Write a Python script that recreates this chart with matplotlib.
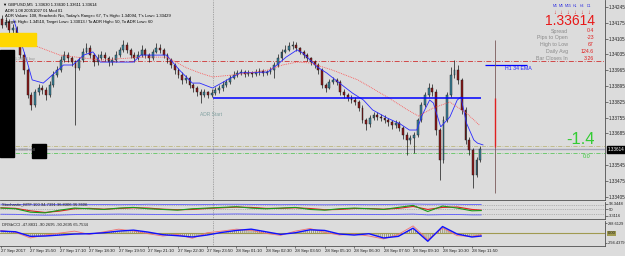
import matplotlib
matplotlib.use("Agg")
import matplotlib.pyplot as plt
from matplotlib.patches import Rectangle
import numpy as np

plt.rcParams["font.family"] = ["Liberation Sans", "DejaVu Sans"]
plt.rcParams["hatch.linewidth"] = 0.6

W, H = 625, 256
BG = "#dcdcdc"

# ---------------- data ----------------
time_labels = ["27 Sep 2017", "27 Sep 15:50", "27 Sep 17:10", "27 Sep 18:30",
               "27 Sep 19:50", "27 Sep 21:10", "27 Sep 22:30", "27 Sep 23:50",
               "28 Sep 01:10", "28 Sep 02:30", "28 Sep 03:50", "28 Sep 05:10",
               "28 Sep 06:30", "28 Sep 07:50", "28 Sep 09:10", "28 Sep 10:30",
               "28 Sep 11:50"]

# candles: 10 minute steps, prices in points above 1.33000
open0_pts = 1190
close_pts = [1165, 1179, 1143, 1152, 1099, 1032, 966, 855, 811, 868,
             886, 877, 855, 899, 944, 966, 1010, 1032, 1019, 1001,
             975, 1010, 1046, 1063, 1032, 1001, 1019, 1032, 1019, 1001,
             1010, 1032, 1055, 1077, 1055, 1032, 1019, 1032, 1055, 1032,
             1019, 1046, 1063, 1055, 1032, 1010, 988, 966, 944, 922,
             931, 899, 886, 868, 855, 868, 855, 864, 877, 886,
             899, 913, 931, 944, 953, 957, 948, 953, 948, 957,
             961, 953, 957, 966, 988, 1019, 1046, 1055, 1072, 1077,
             1063, 1046, 1032, 1019, 1001, 988, 966, 899, 886, 913,
             922, 913, 868, 855, 842, 833, 824, 798, 744, 727,
             753, 767, 758, 753, 744, 736, 722, 731, 709, 678,
             656, 665, 678, 744, 811, 855, 886, 868, 700, 567,
             744, 855, 944, 966, 922, 789, 656, 611, 501, 567, 614]
high_pts = [1210, 1200, 1190, 1170, 1160, 1110, 1045, 975, 870, 880,
            905, 900, 890, 915, 960, 985, 1030, 1050, 1045, 1030,
            1010, 1025, 1065, 1085, 1075, 1040, 1035, 1050, 1045, 1030,
            1025, 1048, 1070, 1100, 1090, 1065, 1045, 1050, 1075, 1065,
            1040, 1060, 1085, 1080, 1065, 1040, 1020, 995, 975, 955,
            945, 940, 910, 895, 880, 880, 875, 880, 890, 900,
            915, 925, 945, 960, 965, 972, 965, 968, 962, 970,
            975, 970, 968, 980, 1000, 1035, 1060, 1075, 1090, 1095,
            1090, 1070, 1055, 1040, 1025, 1010, 995, 975, 910, 925,
            935, 930, 920, 880, 865, 855, 845, 835, 810, 755,
            765, 780, 778, 770, 765, 755, 745, 745, 740, 720,
            690, 680, 690, 755, 825, 870, 910, 905, 880, 710,
            760, 870, 980, 1010, 990, 930, 800, 670, 620, 580, 630]
low_pts = [1150, 1155, 1130, 1125, 1085, 1020, 950, 840, 790, 800,
           855, 860, 835, 845, 890, 935, 955, 1000, 1000, 985,
           722, 965, 1000, 1040, 1020, 985, 990, 1010, 1005, 985,
           990, 1000, 1025, 1045, 1040, 1020, 1000, 1010, 1025, 1020,
           1000, 1010, 1040, 1040, 1020, 995, 975, 950, 930, 905,
           910, 885, 870, 850, 820, 845, 840, 845, 855, 865,
           875, 890, 905, 925, 935, 945, 935, 940, 935, 940,
           945, 940, 945, 950, 930, 980, 1010, 1040, 1050, 1060,
           1050, 1035, 1020, 1005, 990, 975, 950, 885, 870, 880,
           905, 900, 855, 840, 830, 820, 810, 785, 730, 700,
           715, 745, 745, 740, 730, 720, 705, 710, 695, 660,
           590, 640, 600, 670, 735, 800, 845, 850, 680, 478,
           555, 735, 845, 930, 905, 770, 640, 590, 445, 490, 560]

# blue EMA and red dotted MA (bar number, points)
ema_bars = [7, 11, 14, 17, 23, 28, 34, 39, 45, 50, 54, 65, 72, 76, 83, 90, 97,
            104, 108, 115, 123, 130, 145, 150, 155, 161, 164, 172, 177, 184,
            191, 197, 202, 210, 217, 222, 226, 229, 233, 235, 239, 244, 248,
            250, 253, 257, 259, 262]
ema_pts = [1187, 1086, 1010, 922, 908, 944, 988, 988, 1032, 1046, 1001, 1001,
           1001, 1032, 1032, 1032, 966, 908, 908, 886, 922, 953, 957, 988,
           1023, 1055, 1041, 979, 953, 908, 864, 833, 789, 753, 727, 700, 700,
           767, 833, 820, 714, 758, 833, 846, 731, 656, 642, 634]
ma_bars = [0, 5, 10, 19, 32, 54, 77, 90, 101, 108, 115, 126, 135, 145, 153,
           161, 168, 180, 194, 210, 221, 227, 235, 244, 253, 260]
ma_pts = [1090, 1108, 1099, 1072, 1032, 1010, 1023, 1023, 975, 953, 935, 944,
          953, 966, 988, 1001, 997, 966, 922, 846, 789, 762, 798, 824, 775, 722]

price_ticks = [1.34245, 1.34175, 1.34105, 1.34035, 1.33965, 1.33895, 1.33825,
               1.33755, 1.33685, 1.33545, 1.33475, 1.33405]
last_price = 1.33614
target_level = 1.34006
buy_level = 1.33629
sell_level = 1.33598
adr_level = 1.33842
h1_ema_level = 1.33988
adr_start_bar = 115

# oscillators, sampled every 8 bars
osc_bars = list(range(0, 257, 8)) + [261]
stoch_main = [60, 55, 30, 25, 45, 60, 55, 50, 60, 65, 55, 50, 45, 55, 60, 65, 70,
              60, 55, 60, 65, 50, 45, 55, 60, 55, 50, 65, 80, 35, 75, 60, 40, 42]
stoch_sig = [62, 58, 40, 28, 38, 55, 58, 52, 57, 62, 60, 52, 48, 50, 57, 62, 67,
             65, 58, 58, 62, 57, 48, 50, 57, 57, 52, 58, 72, 50, 65, 68, 50, 45]
stoch_up = [88, 86, 85, 84, 86, 88, 87, 86, 85, 86, 88, 87, 86, 85, 86, 88, 88,
            87, 86, 85, 86, 85, 84, 85, 86, 85, 86, 88, 90, 88, 89, 88, 86, 86]
stoch_dn = [15, 14, 10, 8, 9, 12, 14, 15, 16, 15, 14, 13, 12, 13, 15, 16, 17,
            16, 15, 14, 15, 13, 12, 13, 14, 13, 12, 14, 16, 10, 12, 13, 10, 10]
cci_main = [60, 40, -100, -90, -60, -30, -20, 10, 60, 90, 30, -50, -80, -120,
            -60, 20, 80, 120, 40, -40, 10, 100, 80, -30, -60, -20, -150, -100,
            150, -250, 200, -30, -120, -90]
cci_fast = [80, 20, -150, -60, 0, 60, -40, 40, 120, 60, -20, -90, -40, -160,
            10, 60, 120, 80, -10, -70, 60, 140, 20, -60, -30, -90, -180, -40,
            220, -200, 150, -80, -100, -48]

# ---------------- layout helpers ----------------
def box(x0, y0, x1, y1):
    return [x0 / W, 1 - y1 / H, (x1 - x0) / W, (y1 - y0) / H]


def ftext(x, y, s, **kw):
    kw.setdefault("va", "center")
    fig.text(x / W, 1 - y / H, s, **kw)


fig = plt.figure(figsize=(W / 100, H / 100), dpi=100, facecolor=BG)
ax = fig.add_axes(box(0, 0, 605, 200))
ax_st = fig.add_axes(box(0, 202, 605, 219))
ax_cci = fig.add_axes(box(0, 221, 605, 246))

XMAX = 328.3
for a in (ax, ax_st, ax_cci):
    a.set_facecolor(BG)
    a.set_xlim(-0.5, XMAX)
    for s in a.spines.values():
        s.set_color("#505050")
        s.set_linewidth(0.6)
    a.spines["left"].set_visible(False)
    a.spines["top"].set_visible(False)
    a.yaxis.tick_right()
    a.tick_params(axis="y", direction="out", length=2, width=0.4, pad=1,
                  labelsize=3.3, colors="#202020")
    a.set_xticks([])
    a.axvline(adr_start_bar, color="#707070", lw=0.5, ls=(0, (1, 1.5)))

# ---------------- main price panel ----------------
ax.set_ylim(1.33390, 1.34276)
ax.set_yticks(price_ticks)
ax.set_yticklabels([f"{p:.5f}" for p in price_ticks])

closes = 1.33 + np.array(close_pts) / 1e5
opens = np.concatenate([[1.33 + open0_pts / 1e5], closes[:-1]])
highs = 1.33 + np.array(high_pts) / 1e5
lows = 1.33 + np.array(low_pts) / 1e5
xs = np.arange(len(closes)) * 2 + 0.5

ax.vlines(xs, lows, highs, color="#151515", lw=0.5, zorder=2)
bull = closes >= opens
body_lo = np.minimum(opens, closes)
body_h = np.maximum(np.abs(closes - opens), 0.00002)
ax.bar(xs[bull], body_h[bull], bottom=body_lo[bull], width=1.0,
       color="#3a8299", edgecolor="#151515", lw=0.3, zorder=3)
ax.bar(xs[~bull], body_h[~bull], bottom=body_lo[~bull], width=1.0,
       color="#8b1a1a", edgecolor="#151515", lw=0.3, zorder=3)

ax.plot(ema_bars, 1.33 + np.array(ema_pts) / 1e5, color="#2a2aff", lw=0.6, zorder=4)
ax.plot(ma_bars, 1.33 + np.array(ma_pts) / 1e5, color="#ff4a4a", lw=0.6,
        ls=(0, (1, 1.2)), zorder=4)

ax.axhline(target_level, color="#d03030", lw=0.6, ls=(0, (6, 2, 1, 2)), zorder=1)
ax.axhline(buy_level, color="#b5ad6a", lw=0.5, ls=(0, (6, 2, 1, 2)), zorder=1)
ax.axhline(last_price, color="#a4a4b8", lw=1.0, zorder=1)
ax.axhline(sell_level, color="#46c046", lw=0.5, ls=(0, (6, 2, 1, 2)), zorder=1)
ax.hlines(adr_level, adr_start_bar, 261, color="#0000ff", lw=1.1, zorder=5)
ax.hlines(h1_ema_level, 263, 286, color="#0000ff", lw=0.9, zorder=5)
ax.vlines(268.5, 1.33421, 1.34099, color="#7a5a5a", lw=0.6, zorder=5)
ax.vlines(268.5, 1.33625, 1.33842, color="#e02020", lw=1.0, zorder=6)

# boxes drawn on top of the bars
ax.add_patch(Rectangle((-0.5, 1.34073), 19.6, 0.00057, color="#ffd700", zorder=7))
ax.add_patch(Rectangle((-0.5, 1.33581), 7.6, 0.00474, color="black", zorder=7))
ax.add_patch(Rectangle((16.9, 1.33576), 7.6, 0.00062, color="black", zorder=7))

# current price box on the scale
ax.text(1.004, last_price, "1.33614", transform=ax.get_yaxis_transform(),
        fontsize=3.3, color="white", va="center", ha="left",
        bbox=dict(facecolor="black", edgecolor="black", pad=0.6))

# ---------------- stochastic panel ----------------
ax_st.set_ylim(-20.1, 104.7)
ax_st.set_yticks([93.3448, 50, 3.3116])
ax_st.set_yticklabels(["93.3448", "50", "3.3116"])
ax_st.tick_params(axis="y", labelsize=3.0)
for lv in (80, 50, 20):
    ax_st.axhline(lv, color="#8c8c8c", lw=0.4, ls=(0, (2, 2)))
ax_st.plot(osc_bars, stoch_up, color="#5a5aff", lw=0.6)
ax_st.plot(osc_bars, stoch_dn, color="#5a5aff", lw=0.6)
ax_st.plot(osc_bars, stoch_sig, color="#e02020", lw=0.8)
ax_st.plot(osc_bars, stoch_main, color="#1a9a1a", lw=0.8)
ax_st.text(0.004, 0.85, "Stochastic_MTF 100 94.7391 36.8306 36.3606",
           transform=ax_st.transAxes, fontsize=3, va="center", color="#202020")

# ---------------- CCI panel ----------------
ax_cci.set_ylim(-395, 369)
ax_cci.set_yticks([298.6129, -294.4379])
ax_cci.set_yticklabels(["298.6129", "-294.4379"])
ax_cci.tick_params(axis="y", labelsize=2.8, length=1.5, pad=0.5)
ax_cci.axhline(0, color="#a09a50", lw=0.8)
ax_cci.fill_between(osc_bars, 0, cci_main, facecolor="none", edgecolor="#8e8e6a",
                    hatch="||||||||", lw=0)
ax_cci.plot(osc_bars, cci_fast, color="#f07070", lw=0.6)
ax_cci.plot(osc_bars, cci_main, color="#1010ff", lw=1.0)
ax_cci.text(1.004, 0, "0.00", transform=ax_cci.get_yaxis_transform(),
            fontsize=3.0, color="#202020", va="center", ha="left",
            bbox=dict(facecolor="#a09a50", edgecolor="none", pad=0.4))
ax_cci.text(0.004, 0.82, "DRSbCCI -47.8831 -90.2695 -90.2695 65.7534",
            transform=ax_cci.transAxes, fontsize=3, va="center", color="#202020")

tick_bars = list(range(0, 16 * len(time_labels), 16))
ax_cci.set_xticks(tick_bars)
ax_cci.set_xticklabels(time_labels, fontsize=3.2, ha="left")
ax_cci.tick_params(axis="x", length=1.5, width=0.4, pad=0.5, colors="#202020")

# ---------------- chart texts ----------------
ftext(2, 5, "▼", fontsize=3, color="black")
ftext(8, 5, "GBPUSD,M5  1.33630 1.33630 1.33611 1.33614", fontsize=3, color="black")
ftext(5, 11, "ADR 1.08 20051027 01 Mod 01", fontsize=3, color="black")
ftext(5, 16.5, "ADR Values: 108, Reached= No, Today's Range= 67, T's High= 1.34094, "
      "T's Low= 1.33429", fontsize=3, color="black")
ftext(5, 22, "Target High= 1.34510, Target Low= 1.33013 / To ADR High= 50, "
      "To ADR Low= 60", fontsize=3, color="black")

for lab, xx in zip(["M1", "M5", "M15", "H1", "H4", "D1"], [555, 561, 568, 575, 582, 589]):
    ftext(xx, 6, lab, fontsize=2.6, color="#3030e0", ha="center")
    ftext(xx, 12, "↓", fontsize=4, color="#e02020", ha="center", fontweight="bold")
ftext(595, 21, "1.33614", fontsize=10, color="#e81818", ha="right")
rows = [("Spread", "0.4"), ("Pips to Open", "-23"), ("High to Low", "67"),
        ("Daily Avg", "124.6"), ("Bar Closes In", "3:26")]
for k, (lab, val) in enumerate(rows):
    yy = 31 + k * 6.8
    ftext(568, yy, lab, fontsize=3.8, color="#8a8a8a", ha="right")
    ftext(594, yy, val, fontsize=3.8, color="#e02020", ha="right")

ftext(505, 69, "H1 34 EMA", fontsize=3.8, color="#2020ff")
ftext(200, 115, "ADR Start", fontsize=3.5, color="#80a0a0")
ftext(595, 140, "-1.4", fontsize=12, color="#33cc33", ha="right")
ftext(587, 157, "0.0", fontsize=4, color="#33cc33", ha="center")
ftext(15, 150, "1.33688 sell", fontsize=2.6, color="#909090")
ftext(15, 59, "1.33996 buy", fontsize=2.6, color="#909090")

fig.savefig("out.png", dpi=100, facecolor=BG)
